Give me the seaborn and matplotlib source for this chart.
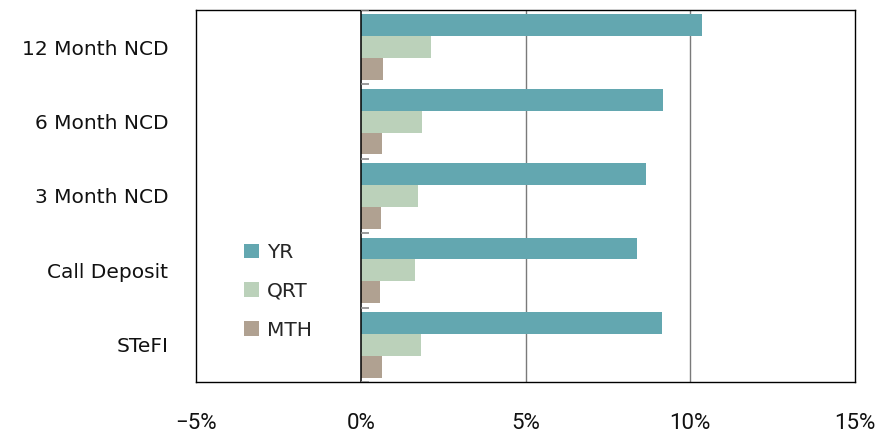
import matplotlib
matplotlib.use("Agg")
import matplotlib.pyplot as plt
import seaborn as sns
import pandas as pd

# Money-market returns by instrument and period (%)
categories = ["12 Month NCD", "6 Month NCD", "3 Month NCD", "Call Deposit", "STeFI"]
series_names = ["YR", "QRT", "MTH"]
yr_values = [10.36, 9.17, 8.65, 8.38, 9.14]
qrt_values = [2.12, 1.87, 1.75, 1.66, 1.84]
mth_values = [0.69, 0.63, 0.60, 0.57, 0.63]
x_ticks = [-5, 0, 5, 10, 15]
x_tick_labels = ["\u22125%", "0%", "5%", "10%", "15%"]

palette = {"YR": "#63A7B0", "QRT": "#BBD1BA", "MTH": "#B0A191"}

df = pd.DataFrame({
    "Instrument": categories * 3,
    "Series": [s for s in series_names for _ in categories],
    "Return": yr_values + qrt_values + mth_values,
})

sns.set_style("white")
plt.rcParams["font.family"] = ["DejaVu Sans"]

fig = plt.figure(figsize=(8.96, 4.37), dpi=100)
ax = fig.add_axes([196 / 896, 1 - 382 / 437, 659 / 896, 372 / 437])

sns.barplot(data=df, y="Instrument", x="Return", hue="Series",
            order=categories, hue_order=series_names, palette=palette,
            orient="h", width=0.88, gap=0, saturation=1, errorbar=None,
            edgecolor="none", linewidth=0, ax=ax)

ax.set_xlim(-5, 15)
ax.set_ylim(len(categories) - 0.5, -0.5)

# vertical reference lines
for xv in [5, 10]:
    ax.axvline(xv, color="#7a7a7a", lw=1, zorder=0)
ax.axvline(0, color="black", lw=1.1, zorder=3)

# short category-boundary ticks on the zero line
for b in range(len(categories) + 1):
    ax.hlines(b - 0.5, 0, 0.25, color="#8a8a8a", lw=1.2, zorder=3)

for sp in ax.spines.values():
    sp.set_visible(True)
    sp.set_color("black")
    sp.set_linewidth(1)

ax.set_xticks(x_ticks)
ax.set_xticklabels(x_tick_labels, family=["Roboto", "DejaVu Sans"],
                   fontsize=16, color="#111111")
ax.tick_params(axis="x", length=0, pad=22)
ax.tick_params(axis="y", length=0, pad=20, labelsize=14.5, labelcolor="#111111")
ax.set_xlabel("")
ax.set_ylabel("")

handles, labels = ax.get_legend_handles_labels()
ax.legend(handles, labels, loc="center left", bbox_to_anchor=(0.0728, 0.244),
          frameon=False, fontsize=14.5, handlelength=0.73, handleheight=0.73,
          handletextpad=0.4, labelspacing=0.99, borderpad=0, borderaxespad=0)

fig.savefig("out.png", dpi=100)
